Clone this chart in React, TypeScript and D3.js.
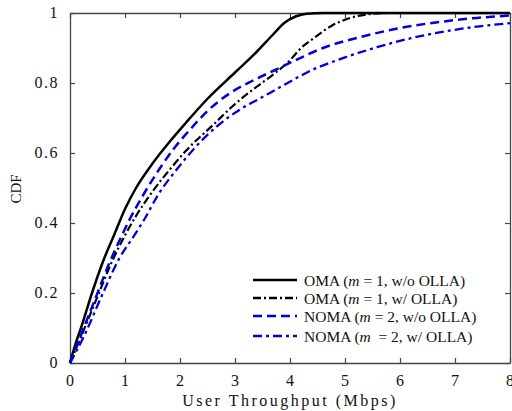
import { useEffect, useRef } from "react";
import * as d3 from "d3";

// CDF curves: [throughput (Mbps), CDF]
const omaNoOlla: [number, number][] = [
  [0, 0], [0.1, 0.055], [0.2, 0.1], [0.4, 0.2], [0.6, 0.29], [0.8, 0.365],
  [1.0, 0.44], [1.2, 0.5], [1.5, 0.57], [1.8, 0.63], [2.1, 0.685],
  [2.5, 0.755], [3.0, 0.83], [3.4, 0.89], [3.7, 0.94], [3.9, 0.972],
  [4.1, 0.99], [4.3, 0.998], [4.6, 1], [8, 1],
];
const omaOlla: [number, number][] = [
  [0, 0], [0.2, 0.075], [0.5, 0.19], [0.75, 0.285], [1.0, 0.365], [1.2, 0.42],
  [1.5, 0.49], [1.8, 0.55], [2.1, 0.605], [2.6, 0.68], [3.0, 0.74],
  [3.4, 0.79], [3.7, 0.825], [4.0, 0.865], [4.2, 0.9], [4.45, 0.93],
  [4.75, 0.963], [5.1, 0.986], [5.45, 0.997], [5.8, 1], [8, 1],
];
const nomaNoOlla: [number, number][] = [
  [0, 0], [0.15, 0.06], [0.3, 0.12], [0.5, 0.2], [0.7, 0.28], [0.9, 0.35],
  [1.1, 0.415], [1.35, 0.485], [1.65, 0.56], [1.9, 0.615], [2.2, 0.67],
  [2.5, 0.72], [2.9, 0.77], [3.3, 0.805], [3.7, 0.835], [4.1, 0.865],
  [4.6, 0.9], [5.3, 0.932], [6.0, 0.957], [6.8, 0.976], [7.4, 0.986], [8, 0.993],
];
const nomaOlla: [number, number][] = [
  [0, 0], [0.25, 0.075], [0.6, 0.2], [0.9, 0.3], [1.15, 0.36], [1.35, 0.41],
  [1.6, 0.48], [1.95, 0.555], [2.3, 0.62], [2.7, 0.68], [3.1, 0.725],
  [3.5, 0.76], [3.9, 0.795], [4.4, 0.837], [5.0, 0.873], [5.6, 0.903],
  [6.2, 0.928], [6.8, 0.947], [7.4, 0.961], [8, 0.971],
];

const xTicks = [0, 1, 2, 3, 4, 5, 6, 7, 8];
const yTicks = [0, 0.2, 0.4, 0.6, 0.8, 1];

const series = [
  { name: "OMA", m: "1", olla: "w/o OLLA", gap: " ", data: omaNoOlla, color: "#000", dash: null, width: 2.5 },
  { name: "OMA", m: "1", olla: "w/ OLLA", gap: " ", data: omaOlla, color: "#000", dash: "8,3,2,3", width: 2.2 },
  { name: "NOMA", m: "2", olla: "w/o OLLA", gap: " ", data: nomaNoOlla, color: "#0000dd", dash: "9,5", width: 2.5 },
  { name: "NOMA", m: "2", olla: "w/ OLLA", gap: "  ", data: nomaOlla, color: "#0000dd", dash: "9,4,3,4", width: 2.3 },
];

const App = () => {
  const svgRef = useRef<SVGSVGElement>(null);

  useEffect(() => {
    const left = 70, right = 510, top = 13, bottom = 363;
    const font = "'Liberation Serif', 'Times New Roman', serif";

    const x = d3.scaleLinear().domain([0, 8]).range([left, right]);
    const y = d3.scaleLinear().domain([0, 1]).range([bottom, top]);

    const svg = d3.select(svgRef.current);
    svg.selectAll("*").remove();

    // frame with inward ticks on all sides
    const axisColor = "#444";
    const styleAxis = (g: any) => {
      g.select(".domain").attr("stroke", axisColor).attr("stroke-width", 1.3);
      g.selectAll(".tick line").attr("stroke", axisColor).attr("stroke-width", 1.2);
    };

    svg.append("g")
      .attr("transform", `translate(0,${bottom})`)
      .call(d3.axisBottom(x).tickValues(xTicks).tickSizeInner(-5).tickSizeOuter(0).tickFormat(() => ""))
      .call(styleAxis);
    svg.append("g")
      .attr("transform", `translate(0,${top})`)
      .call(d3.axisTop(x).tickValues(xTicks).tickSizeInner(-5).tickSizeOuter(0).tickFormat(() => ""))
      .call(styleAxis);
    svg.append("g")
      .attr("transform", `translate(${left},0)`)
      .call(d3.axisLeft(y).tickValues(yTicks).tickSizeInner(-5).tickSizeOuter(0).tickFormat(() => ""))
      .call(styleAxis);
    svg.append("g")
      .attr("transform", `translate(${right},0)`)
      .call(d3.axisRight(y).tickValues(yTicks).tickSizeInner(-5).tickSizeOuter(0).tickFormat(() => ""))
      .call(styleAxis);

    // tick labels
    svg.append("g")
      .attr("font-family", font)
      .attr("font-size", 16)
      .attr("fill", "#111")
      .attr("text-anchor", "middle")
      .selectAll("text")
      .data(xTicks)
      .join("text")
      .attr("x", (d) => x(d))
      .attr("y", bottom + 23)
      .text((d) => d);

    svg.append("g")
      .attr("font-family", font)
      .attr("font-size", 16)
      .attr("fill", "#111")
      .attr("text-anchor", "end")
      .attr("letter-spacing", 1.5)
      .selectAll("text")
      .data(yTicks)
      .join("text")
      .attr("x", left - 11)
      .attr("y", (d) => y(d) + 5)
      .text((d) => (d === 0 || d === 1 ? String(d) : d.toFixed(1)));

    // axis titles
    svg.append("text")
      .attr("x", 290)
      .attr("y", 406)
      .attr("text-anchor", "middle")
      .attr("font-family", font)
      .attr("font-size", 16)
      .attr("letter-spacing", 2.5)
      .attr("fill", "#111")
      .text("User Throughput (Mbps)");

    svg.append("text")
      .attr("transform", `translate(21,${(top + bottom) / 2 + 1}) rotate(-90)`)
      .attr("text-anchor", "middle")
      .attr("font-family", font)
      .attr("font-size", 15)
      .attr("fill", "#111")
      .text("CDF");

    // curves
    const line = d3.line<[number, number]>()
      .x((d) => x(d[0]))
      .y((d) => y(d[1]))
      .curve(d3.curveMonotoneX);

    svg.append("g")
      .selectAll("path")
      .data(series)
      .join("path")
      .attr("d", (s) => line(s.data))
      .attr("fill", "none")
      .attr("stroke", (s) => s.color)
      .attr("stroke-width", (s) => s.width)
      .attr("stroke-dasharray", (s) => s.dash);

    // legend
    const rows = [280, 298, 316, 336];
    const legend = svg.append("g")
      .selectAll("g")
      .data(series)
      .join("g")
      .attr("transform", (_, i) => `translate(253,${rows[i]})`);

    legend.append("line")
      .attr("x1", 0)
      .attr("x2", 44)
      .attr("stroke", (s) => s.color)
      .attr("stroke-width", 2.5)
      .attr("stroke-dasharray", (s) => s.dash);

    const label = legend.append("text")
      .attr("x", 51)
      .attr("y", 6)
      .attr("font-family", font)
      .attr("font-size", 15.5)
      .attr("fill", "#111")
      .style("white-space", "pre");
    label.append("tspan").text((s) => `${s.name} (`);
    label.append("tspan").attr("font-style", "italic").text("m");
    label.append("tspan").text((s) => `${s.gap}= ${s.m}, ${s.olla})`);
  }, []);

  return (
    <svg
      ref={svgRef}
      width={512}
      height={411}
      style={{ position: "absolute", left: 0, top: 0, background: "#fff" }}
    />
  );
};

export default App;
